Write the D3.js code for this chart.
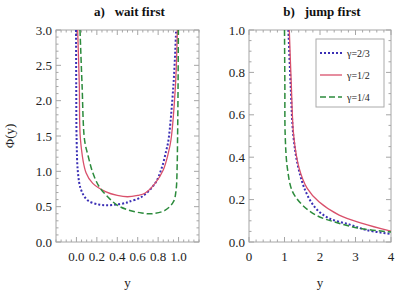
<!DOCTYPE html>
<html lang="en">
<head>
<meta charset="UTF-8">
<title>wait first / jump first</title>
<script src="https://cdnjs.cloudflare.com/ajax/libs/d3/7.8.5/d3.min.js"></script>
<style>
  body { margin: 0; background: #fff; }
  svg { display: block; font-family: 'Liberation Serif', 'DejaVu Serif', serif; }
  .frame { fill: none; stroke: #a6a6a6; stroke-width: 1; }
  .tick { stroke: #a6a6a6; stroke-width: 1; }
  .lab { font-size: 13px; fill: #222; }
  .title { font-size: 13px; font-weight: bold; fill: #111; white-space: pre; }
</style>
</head>
<body>
<div id="chart"></div>
<script>
// series labels and styles
const seriesNames = ["γ=2/3", "γ=1/2", "γ=1/4"];
const seriesColors = ["#3b2fb5", "#d9506b", "#2c8b3c"];

// panel a) wait first  [y, Φ(y)]
const waitBlue = [[-0.004, 3.0], [-0.002, 2.2], [0.002, 1.44], [0.015, 0.98], [0.045, 0.74], [0.11, 0.59],
  [0.22, 0.53], [0.3, 0.52], [0.39, 0.53], [0.476, 0.55], [0.515, 0.57], [0.64, 0.64], [0.77, 0.83],
  [0.84, 1.07], [0.88, 1.30], [0.90, 1.43], [0.95, 2.23], [0.976, 3.0]];
const waitRed = [[0.012, 3.0], [0.028, 2.23], [0.04, 1.44], [0.094, 0.98], [0.16, 0.83], [0.29, 0.71],
  [0.4, 0.66], [0.5, 0.64], [0.6, 0.66], [0.67, 0.69], [0.77, 0.83], [0.85, 1.02], [0.90, 1.26],
  [0.925, 1.44], [0.97, 2.23], [0.988, 3.0]];
const waitGreen = [[0.035, 3.0], [0.055, 2.23], [0.08, 1.44], [0.116, 1.21], [0.16, 0.98], [0.224, 0.78],
  [0.306, 0.64], [0.40, 0.52], [0.515, 0.45], [0.64, 0.41], [0.74, 0.40], [0.87, 0.45], [0.95, 0.57],
  [0.976, 0.74], [0.986, 1.07], [0.99, 1.44], [0.995, 2.2], [0.998, 3.0]];

// panel b) jump first
const jumpBlue = [[1.11, 1.0], [1.17, 0.75], [1.25, 0.5], [1.39, 0.35], [1.60, 0.237], [1.88, 0.159],
  [2.25, 0.112], [2.82, 0.083], [3.29, 0.057], [4.0, 0.038]];
const jumpRed = [[1.135, 1.0], [1.19, 0.75], [1.26, 0.5], [1.41, 0.35], [1.64, 0.253], [1.97, 0.19],
  [2.54, 0.127], [3.19, 0.088], [4.0, 0.051]];
const jumpGreen = [[1.0, 1.0], [1.01, 0.75], [1.02, 0.5], [1.08, 0.35], [1.22, 0.24], [1.50, 0.175],
  [1.88, 0.127], [2.44, 0.093], [3.10, 0.065], [4.0, 0.047]];

// ticks
const waitXTicks = [0, 0.2, 0.4, 0.6, 0.8, 1.0];
const waitYTicks = [0, 0.5, 1.0, 1.5, 2.0, 2.5, 3.0];
const jumpXTicks = [0, 1, 2, 3, 4];
const jumpYTicks = [0, 0.2, 0.4, 0.6, 0.8, 1.0];

const W = 415, H = 291;
const svg = d3.select("#chart").append("svg").attr("width", W).attr("height", H);

const dashes = ["2,2", null, "6,3"];
const widths = [2, 1.3, 1.5];

function panel(opt) {
  const x = d3.scaleLinear().domain(opt.xDomain).range([opt.left, opt.right]);
  const y = d3.scaleLinear().domain(opt.yDomain).range([242, 30]);
  const g = svg.append("g");
  const clipId = "clip" + opt.id;
  svg.append("clipPath").attr("id", clipId).append("rect")
    .attr("x", opt.left).attr("y", 30).attr("width", opt.right - opt.left).attr("height", 212);

  // minor + major ticks, inward on all four sides
  const xMinor = d3.range(opt.xDomain[0], opt.xDomain[1] + 1e-9, opt.xMinorStep);
  const yMinor = d3.range(opt.yDomain[0], opt.yDomain[1] + 1e-9, opt.yMinorStep);
  xMinor.forEach(v => {
    const major = opt.xTicks.some(t => Math.abs(t - v) < 1e-6);
    const len = major ? 5 : 2.5;
    g.append("line").attr("class", "tick").attr("x1", x(v)).attr("x2", x(v)).attr("y1", 242).attr("y2", 242 - len);
    g.append("line").attr("class", "tick").attr("x1", x(v)).attr("x2", x(v)).attr("y1", 30).attr("y2", 30 + len);
  });
  yMinor.forEach(v => {
    const major = opt.yTicks.some(t => Math.abs(t - v) < 1e-6);
    const len = major ? 5 : 2.5;
    g.append("line").attr("class", "tick").attr("y1", y(v)).attr("y2", y(v)).attr("x1", opt.left).attr("x2", opt.left + len);
    g.append("line").attr("class", "tick").attr("y1", y(v)).attr("y2", y(v)).attr("x1", opt.right).attr("x2", opt.right - len);
  });
  g.append("rect").attr("class", "frame")
    .attr("x", opt.left).attr("y", 30).attr("width", opt.right - opt.left).attr("height", 212);

  g.selectAll(".xl").data(opt.xTicks).join("text").attr("class", "lab")
    .attr("x", d => x(d)).attr("y", 261).attr("text-anchor", "middle").text(opt.xFmt);
  g.selectAll(".yl").data(opt.yTicks).join("text").attr("class", "lab")
    .attr("x", opt.left - 4).attr("y", d => y(d) + 4.5).attr("text-anchor", "end").text(opt.yFmt);

  g.append("text").attr("class", "lab").attr("x", (opt.left + opt.right) / 2).attr("y", 287)
    .attr("text-anchor", "middle").text("y");
  g.append("text").attr("class", "title").attr("x", (opt.left + opt.right) / 2 + 2).attr("y", 16)
    .attr("text-anchor", "middle").text(opt.title);

  const line = d3.line().x(d => x(d[0])).y(d => y(d[1])).curve(d3.curveCatmullRom.alpha(0.5));
  opt.series.forEach((s, i) => {
    g.append("path").attr("d", line(s)).attr("clip-path", `url(#${clipId})`)
      .attr("fill", "none").attr("stroke", seriesColors[i]).attr("stroke-width", widths[i])
      .attr("stroke-dasharray", dashes[i]);
  });
  return g;
}

panel({
  id: "a", left: 56, right: 199, xDomain: [-0.2, 1.2], yDomain: [0, 3],
  xTicks: waitXTicks, yTicks: waitYTicks, xMinorStep: 0.05, yMinorStep: 0.1,
  xFmt: d3.format(".1f"), yFmt: d3.format(".1f"),
  title: "a)   wait first", series: [waitBlue, waitRed, waitGreen]
});

const gb = panel({
  id: "b", left: 249, right: 391, xDomain: [0, 4], yDomain: [0, 1],
  xTicks: jumpXTicks, yTicks: jumpYTicks, xMinorStep: 0.2, yMinorStep: 0.05,
  xFmt: d3.format("d"), yFmt: d3.format(".1f"),
  title: "b)   jump first", series: [jumpBlue, jumpRed, jumpGreen]
});

// y axis title
svg.append("text").attr("class", "lab").attr("transform", "translate(14,136) rotate(-90)")
  .attr("text-anchor", "middle").text("Φ(y)");

// legend
const lg = gb.append("g");
lg.append("rect").attr("x", 316).attr("y", 39).attr("width", 68).attr("height", 68)
  .attr("fill", "#fff").attr("stroke", "#aaa").attr("stroke-width", 1);
seriesNames.forEach((n, i) => {
  const yy = 53 + i * 22;
  lg.append("line").attr("x1", 320).attr("x2", 342).attr("y1", yy).attr("y2", yy)
    .attr("stroke", seriesColors[i]).attr("stroke-width", widths[i]).attr("stroke-dasharray", dashes[i]);
  lg.append("text").attr("x", 347).attr("y", yy + 3.5).attr("font-size", "10px").attr("fill", "#222").text(n);
});
</script>
</body>
</html>
